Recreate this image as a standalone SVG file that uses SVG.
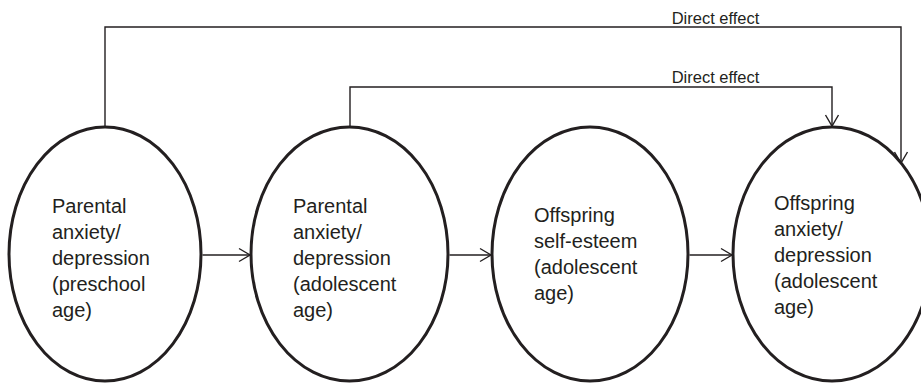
<svg xmlns="http://www.w3.org/2000/svg" width="921" height="385" viewBox="0 0 921 385">
<style>
.node{fill:#fff;stroke:#231f20;stroke-width:3}
.conn{fill:none;stroke:#231f20;stroke-width:1.4}
.t{font-family:"Liberation Sans",Arial,sans-serif;font-size:20px;fill:#231f20}
.lbl{font-family:"Liberation Sans",Arial,sans-serif;font-size:16.5px;fill:#231f20;text-anchor:middle}
</style>
<defs>
<marker id="arr" viewBox="-12 -8 14 16" markerWidth="14" markerHeight="16" refX="0" refY="0" orient="auto" markerUnits="userSpaceOnUse">
<path d="M-11,-6.5 L0,0 L-11,6.5" fill="none" stroke="#231f20" stroke-width="1.4"/>
</marker>
</defs>
<rect width="921" height="385" fill="#fff"/>
<g id="n1">
<ellipse class="node" cx="105" cy="254" rx="96" ry="127"/>
<text class="t" x="52" y="213">Parental</text>
<text class="t" x="52" y="239">anxiety/</text>
<text class="t" x="52" y="265">depression</text>
<text class="t" x="52" y="291">(preschool</text>
<text class="t" x="52" y="317">age)</text>
</g>
<g id="n2">
<ellipse class="node" cx="349.5" cy="254" rx="98.5" ry="127"/>
<text class="t" x="293" y="213">Parental</text>
<text class="t" x="293" y="239">anxiety/</text>
<text class="t" x="293" y="265">depression</text>
<text class="t" x="293" y="291">(adolescent</text>
<text class="t" x="293" y="317">age)</text>
</g>
<g id="n3">
<ellipse class="node" cx="590" cy="254" rx="98" ry="127"/>
<text class="t" x="534" y="222">Offspring</text>
<text class="t" x="534" y="248">self-esteem</text>
<text class="t" x="534" y="274">(adolescent</text>
<text class="t" x="534" y="300">age)</text>
</g>
<g id="n4">
<ellipse class="node" cx="832" cy="254" rx="99" ry="127"/>
<text class="t" x="774" y="210">Offspring</text>
<text class="t" x="774" y="236">anxiety/</text>
<text class="t" x="774" y="262">depression</text>
<text class="t" x="774" y="288">(adolescent</text>
<text class="t" x="774" y="314">age)</text>
</g>
<g id="connectors">
<path class="conn" d="M202.5,255 H250" marker-end="url(#arr)"/>
<path class="conn" d="M449.5,255 H491" marker-end="url(#arr)"/>
<path class="conn" d="M689.5,255 H732" marker-end="url(#arr)"/>
<path class="conn" d="M105,127 V27 H901 V163" marker-end="url(#arr)"/>
<path class="conn" d="M350,127 V87 H832 V126" marker-end="url(#arr)"/>
<text class="lbl" x="715.5" y="24">Direct effect</text>
<text class="lbl" x="715.5" y="83">Direct effect</text>
</g>
</svg>
